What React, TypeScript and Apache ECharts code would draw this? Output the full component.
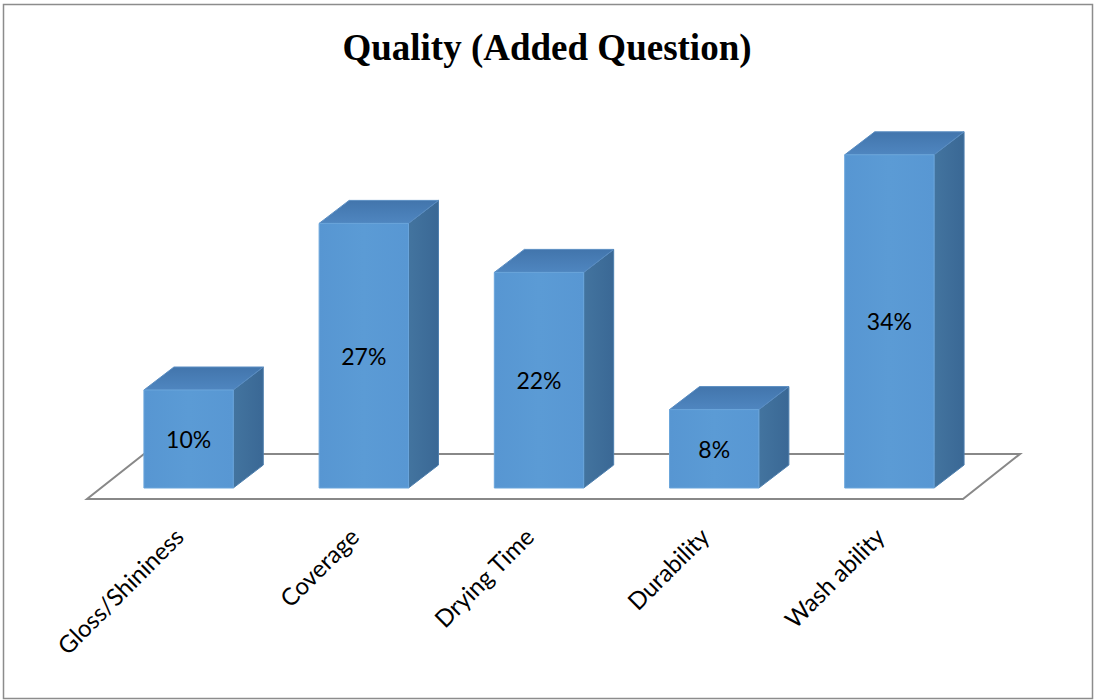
import React, { useEffect, useRef } from "react";
import * as echarts from "echarts";

// Survey results: quality attributes chosen by respondents
const categories = ["Gloss/Shininess", "Coverage", "Drying Time", "Durability", "Wash ability"];
const shares = [10, 27, 22, 8, 34];
const titleText = "Quality (Added Question)";

// Pseudo-3D geometry (pixels)
const BAR_DX = 30;
const BAR_DY = -23;
const FLOOR_FRONT = [-14, 11];
const FLOOR_BACK = [43, -34];

const FRONT = "#5B9BD5";

export default function App() {
  const ref = useRef<HTMLDivElement>(null);

  useEffect(() => {
    if (!ref.current) return;
    const chart = echarts.init(ref.current, undefined, { renderer: "svg" });

    const renderBar = (params: any, api: any) => {
      const idx = api.value(0);
      const val = api.value(1);
      const base = api.coord([idx, 0]);
      const top = api.coord([idx, val]);
      const w = api.size([1, 0])[0] * 0.51;
      const x0 = base[0] - w / 2;
      const x1 = base[0] + w / 2;
      const yb = base[1];
      const yt = top[1];
      return {
        type: "group",
        children: [
          {
            type: "polygon",
            shape: {
              points: [
                [x1, yb],
                [x1 + BAR_DX, yb + BAR_DY],
                [x1 + BAR_DX, yt + BAR_DY],
                [x1, yt],
              ],
            },
            style: {
              fill: new echarts.graphic.LinearGradient(0, 0, 1, 0, [
                { offset: 0, color: "#43749F" },
                { offset: 1, color: "#3A6895" },
              ]),
              stroke: "#4E7FAE",
              lineWidth: 1,
            },
          },
          {
            type: "polygon",
            shape: {
              points: [
                [x0, yt],
                [x0 + BAR_DX, yt + BAR_DY],
                [x1 + BAR_DX, yt + BAR_DY],
                [x1, yt],
              ],
            },
            style: {
              fill: new echarts.graphic.LinearGradient(0, 1, 0, 0, [
                { offset: 0, color: "#4F86C0" },
                { offset: 1, color: "#4275AC" },
              ]),
              stroke: "#5A8DC2",
              lineWidth: 1,
            },
          },
          {
            type: "rect",
            shape: { x: x0, y: yt, width: w, height: yb - yt },
            style: {
              fill: new echarts.graphic.LinearGradient(0, 0, 1, 0, [
                { offset: 0, color: "#5796D2" },
                { offset: 0.5, color: FRONT },
                { offset: 1, color: "#5897D3" },
              ]),
              stroke: "#6AA5DB",
              lineWidth: 1,
            },
          },
          {
            type: "text",
            x: base[0],
            y: (yt + yb) / 2,
            style: {
              text: val + "%",
              fill: "#000",
              font: "23px Lato",
              align: "center",
              verticalAlign: "middle",
            },
          },
        ],
      };
    };

    const renderFloor = (params: any) => {
      const cs = params.coordSys;
      const l = cs.x;
      const r = cs.x + cs.width;
      const b = cs.y + cs.height;
      return {
        type: "polygon",
        z2: -10,
        shape: {
          points: [
            [l + FLOOR_FRONT[0], b + FLOOR_FRONT[1]],
            [r + FLOOR_FRONT[0], b + FLOOR_FRONT[1]],
            [r + FLOOR_BACK[0], b + FLOOR_BACK[1]],
            [l + FLOOR_BACK[0], b + FLOOR_BACK[1]],
          ],
        },
        style: { fill: "#fff", stroke: "#888", lineWidth: 2 },
      };
    };

    chart.setOption({
      animation: false,
      backgroundColor: "#fff",
      title: {
        text: titleText,
        left: "center",
        top: 24,
        textStyle: {
          fontFamily: "Liberation Serif",
          fontWeight: "bold",
          fontSize: 37,
          color: "#000",
        },
      },
      graphic: [
        {
          type: "rect",
          shape: { x: 3.5, y: 4.5, width: 1089, height: 694 },
          style: { fill: "none", stroke: "#8c8c8c", lineWidth: 1.5 },
          silent: true,
        },
      ],
      grid: { left: 101, right: 117, top: 96, bottom: 212 },
      xAxis: {
        type: "category",
        data: categories,
        axisLine: { show: false },
        axisTick: { show: false },
        axisLabel: {
          rotate: 45,
          margin: 34,
          padding: [0, 14, 0, 0],
          interval: 0,
          fontFamily: "Lato",
          fontSize: 24,
          color: "#000",
        },
      },
      yAxis: {
        type: "value",
        min: 0,
        max: 40,
        show: false,
        splitLine: { show: false },
      },
      series: [
        {
          type: "custom",
          name: "floor",
          data: [[0, 0]],
          renderItem: renderFloor,
          z: 1,
          silent: true,
        },
        {
          type: "custom",
          name: "Quality",
          data: shares.map((v, i) => [i, v]),
          encode: { x: 0, y: 1 },
          renderItem: renderBar,
          z: 2,
        },
      ],
    });

    return () => chart.dispose();
  }, []);

  return (
    <div
      ref={ref}
      style={{ position: "fixed", left: 0, top: 0, width: 1094, height: 700 }}
    />
  );
}
